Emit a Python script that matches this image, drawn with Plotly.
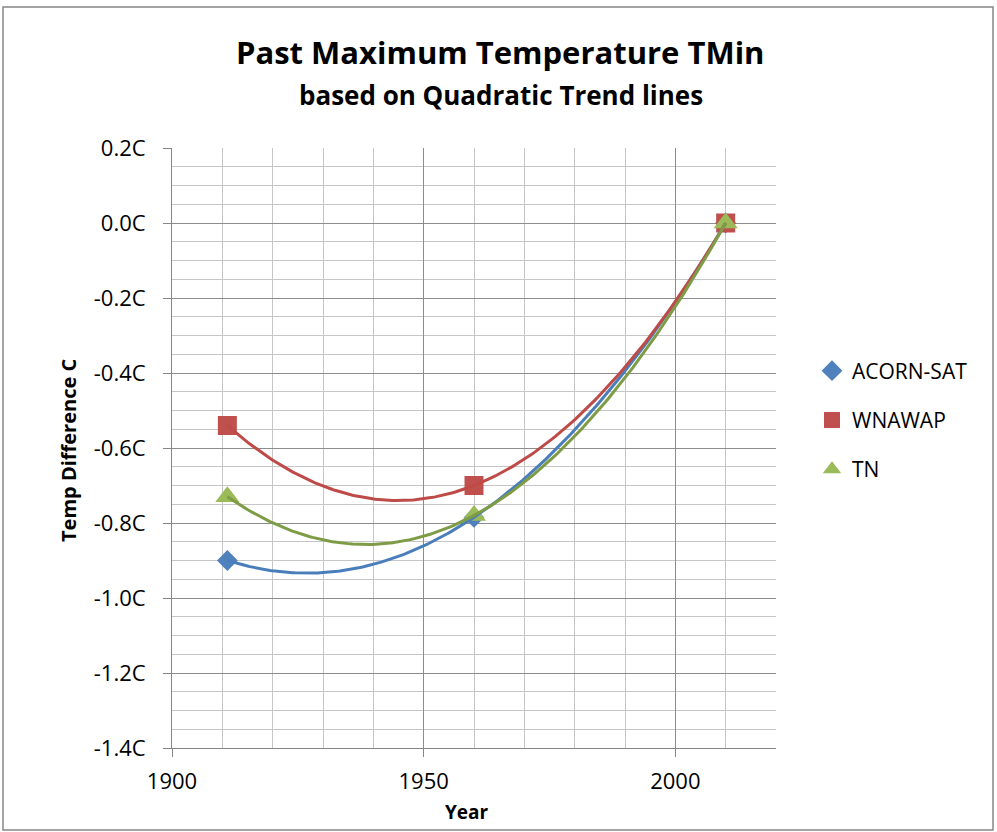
import numpy as np
import plotly.graph_objects as go

# ---- data ----
years = [1911, 1960, 2010]
acorn_sat = [-0.90, -0.785, 0.0]
wnawap = [-0.54, -0.70, 0.0]
tn = [-0.73, -0.78, 0.0]

series_names = ["ACORN-SAT", "WNAWAP", "TN"]
series_values = [acorn_sat, wnawap, tn]
marker_colors = ["#4F81BD", "#C0504D", "#9BBB59"]
line_colors = ["#4A7EBB", "#BE4B48", "#7E9C45"]
symbols = ["diamond", "square", "triangle-up"]
sizes = [16, 19, 21]

y_tick_vals = [0.2, 0.0, -0.2, -0.4, -0.6, -0.8, -1.0, -1.2, -1.4]
y_tick_text = ["0.2C", "0.0C", "-0.2C", "-0.4C", "-0.6C", "-0.8C", "-1.0C", "-1.2C", "-1.4C"]
x_tick_vals = [1900, 1950, 2000]
x_tick_text = ["1900", "1950", "2000"]

FONT = "Open Sans"

fig = go.Figure()

# markers (legend entries)
for name, vals, col, sym, sz in zip(series_names, series_values, marker_colors, symbols, sizes):
    fig.add_trace(go.Scatter(
        x=years, y=vals, mode="markers", name=name,
        marker=dict(symbol=sym, size=sz, color=col, line=dict(width=0)),
        legendgroup=name,
    ))

# quadratic trend lines (fitted from the data, as in the source chart)
for name, vals, col in zip(series_names, series_values, line_colors):
    coef = np.polyfit(years, vals, 2)
    xs = np.linspace(min(years), max(years), 200)
    fig.add_trace(go.Scatter(
        x=xs, y=np.polyval(coef, xs), mode="lines", showlegend=False,
        line=dict(color=col, width=3), hoverinfo="skip", legendgroup=name,
    ))

L, R, T, B = 172, 221, 148, 84
PW, PH = 997 - L - R, 832 - T - B

def px_x(p):
    return (p - L) / PW

def px_y(p):
    return (832 - B - p) / PH

fig.update_layout(
    width=997, height=832,
    margin=dict(l=L, r=R, t=T, b=B, pad=0),
    paper_bgcolor="white", plot_bgcolor="white",
    font=dict(family=FONT, color="black", size=22),
    showlegend=True,
    legend=dict(
        x=px_x(812), y=px_y(420), xanchor="left", yanchor="middle",
        font=dict(size=21, family=FONT), tracegroupgap=19,
        bgcolor="rgba(0,0,0,0)", itemsizing="trace",
    ),
    xaxis=dict(
        range=[1900, 2020], tickvals=x_tick_vals, ticktext=x_tick_text,
        showgrid=True, gridcolor="#8C8C8C", gridwidth=1,
        showline=True, linecolor="#868686", linewidth=1,
        ticks="outside", ticklen=8, tickcolor="#868686",
        zeroline=False, ticklabelstandoff=6, tickfont=dict(size=22),
        minor=dict(dtick=10, tick0=1900, showgrid=True, gridcolor="#C6C6C6", gridwidth=1, ticks=""),
    ),
    yaxis=dict(
        range=[-1.4, 0.2], tickvals=y_tick_vals, ticktext=y_tick_text,
        showgrid=True, gridcolor="#8C8C8C", gridwidth=1,
        showline=True, linecolor="#868686", linewidth=1,
        ticks="outside", ticklen=8, tickcolor="#868686",
        zeroline=False, ticklabelstandoff=13, tickfont=dict(size=22),
        minor=dict(dtick=0.05, tick0=0, showgrid=True, gridcolor="#C6C6C6", gridwidth=1, ticks=""),
    ),
    annotations=[
        dict(text="<b>Past Maximum Temperature TMin</b>", x=px_x(500), y=px_y(52),
             xref="paper", yref="paper", showarrow=False, xanchor="center", yanchor="middle",
             font=dict(size=31, family=FONT)),
        dict(text="<b>based on Quadratic Trend lines</b>", x=px_x(501), y=px_y(95),
             xref="paper", yref="paper", showarrow=False, xanchor="center", yanchor="middle",
             font=dict(size=26, family=FONT)),
        dict(text="<b>Temp Difference C</b>", x=px_x(68), y=px_y(451), textangle=-90,
             xref="paper", yref="paper", showarrow=False, xanchor="center", yanchor="middle",
             font=dict(size=20, family=FONT)),
        dict(text="<b>Year</b>", x=px_x(467), y=px_y(812),
             xref="paper", yref="paper", showarrow=False, xanchor="center", yanchor="middle",
             font=dict(size=19, family=FONT)),
    ],
    shapes=[
        dict(type="rect", xref="paper", yref="paper",
             x0=px_x(3), x1=px_x(993), y0=px_y(830), y1=px_y(7),
             line=dict(color="#868686", width=1.5), fillcolor="rgba(0,0,0,0)", layer="below"),
    ],
)

fig.write_html("out.html")
